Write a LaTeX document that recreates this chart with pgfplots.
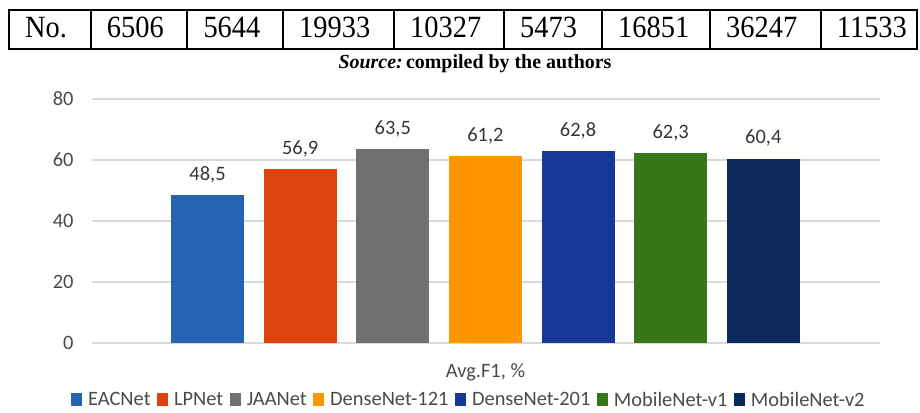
\documentclass[border=0pt]{standalone}
\usepackage{pgfplots}
\pgfplotsset{compat=1.18}
\usepackage{fontspec}
\setmainfont{Carlito}
\newfontfamily\timesf{Liberation Serif}
\newfontfamily\timesn[FakeStretch=0.92]{Liberation Serif}
\definecolor{cA}{HTML}{2663B2}
\definecolor{cB}{HTML}{DD430D}
\definecolor{cC}{HTML}{707070}
\definecolor{cD}{HTML}{FF9600}
\definecolor{cE}{HTML}{17389A}
\definecolor{cF}{HTML}{38761A}
\definecolor{cG}{HTML}{0A2859}
\definecolor{txtA}{HTML}{4A4A4A}
\definecolor{txtB}{HTML}{363636}
\definecolor{gridc}{HTML}{D9D9D9}
\newcommand\chartfont{\fontsize{20.5}{24}\selectfont}
\begin{document}
\begin{tikzpicture}[x=1bp,y=1bp]
\path[use as bounding box] (0,0) rectangle (920,-412);
% table row
\draw[line width=2bp] (9,-10) rectangle (917,-49);
\foreach \x in {90.7,187.3,283,394,504,602,710,820.7}
  \draw[line width=2bp] (\x,-10) -- (\x,-49);
\foreach \x/\t in {9/No.,90.7/6506,187.3/5644,283/19933,394/10327,504/5473,602/16851,710/36247,820.7/11533}
  \node[anchor=base west, inner sep=0, font=\timesn\fontsize{31}{33}\selectfont] at (\x+16,-37) {\t};
\node[anchor=base, inner sep=0, font=\timesf\bfseries\fontsize{20}{22}\selectfont] at (475,-68) {\textit{Source:}\,compiled by the authors};
\begin{axis}[
  at={(92bp,-343bp)}, anchor=south west,
  scale only axis, width=788bp, height=244bp,
  xmin=-1.247, xmax=7.26, ymin=0, ymax=80,
  ytick={0,20,40,60,80}, xtick=\empty,
  ymajorgrids, grid style={line width=1.5bp, color=gridc},
  axis line style={draw=none}, major tick length=0pt,
  /pgf/number format/assume math mode=true,
  yticklabel style={font=\chartfont, text=txtA, xshift=-15bp},
  ybar, bar width=73bp, bar shift=0pt,
  every axis plot/.append style={draw=none, legend image code/.code={\fill[##1] (0bp,-6bp) rectangle (11bp,7bp);}},
  nodes near coords,
  nodes near coords style={font=\chartfont, text=txtB, inner sep=0pt, anchor=south, yshift=12bp,
    /pgf/number format/.cd, fixed, fixed zerofill, precision=1, use comma},
  xlabel={Avg.F1, \%},
  xlabel style={font=\chartfont, text=txtA, at={(axis description cs:0.4994,-0.119)}, anchor=center},
  legend columns=7,
  legend style={draw=none, fill=none, at={(0.477,-0.234)}, anchor=center, font=\chartfont, text=txtA,
    nodes={inner sep=0pt},
    /tikz/every odd column/.append style={column sep=6bp},
    /tikz/every even column/.append style={column sep=6.5bp}},
]
\addplot[fill=cA] coordinates {(0,48.5)};
\addplot[fill=cB] coordinates {(1,56.9)};
\addplot[fill=cC] coordinates {(2,63.5)};
\addplot[fill=cD] coordinates {(3,61.2)};
\addplot[fill=cE] coordinates {(4,62.8)};
\addplot[fill=cF] coordinates {(5,62.3)};
\addplot[fill=cG] coordinates {(6,60.4)};
\legend{EACNet,LPNet,JAANet,DenseNet-121,DenseNet-201,MobileNet-v1,MobileNet-v2}
\end{axis}
\end{tikzpicture}
\end{document}
